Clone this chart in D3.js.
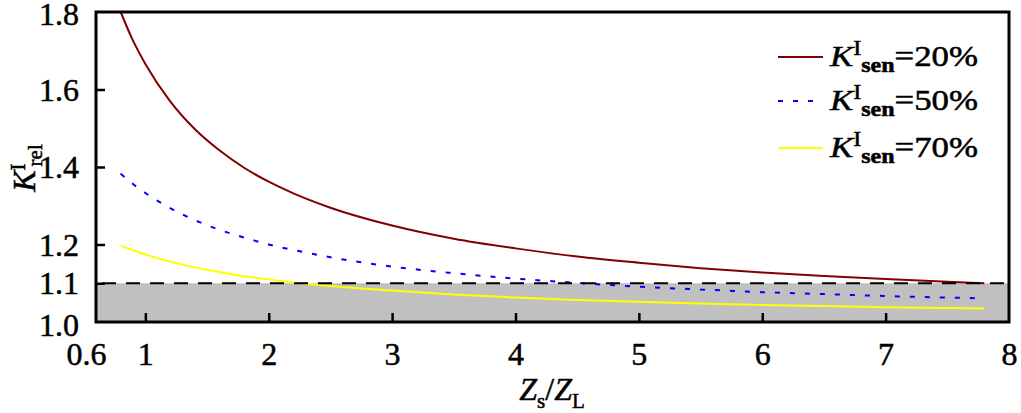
<!DOCTYPE html>
<html><head><meta charset="utf-8">
<script src="https://cdn.jsdelivr.net/npm/d3@7/dist/d3.min.js"></script>
<style>
html,body{margin:0;padding:0;background:#fff;}
svg{display:block;font-family:"Liberation Serif","Times New Roman",serif;}
text{stroke:#000;stroke-width:0.5px;}
</style></head>
<body>
<svg id="chart" width="1021" height="413"></svg>
<script>
// ---- data ----
const xValues = [0.8,0.9,1.0,1.2,1.4,1.6,1.8,2.0,2.2,2.5,3.0,3.5,4.0,4.5,5.0,5.5,6.0,6.5,7.0,7.5,7.8];
const k20 = [1.800,1.726,1.666,1.570,1.498,1.443,1.398,1.362,1.332,1.295,1.249,1.215,1.190,1.169,1.153,1.139,1.128,1.119,1.111,1.104,1.100];
const k50 = [1.383,1.356,1.333,1.294,1.263,1.238,1.218,1.200,1.186,1.167,1.143,1.126,1.112,1.101,1.091,1.084,1.077,1.072,1.067,1.063,1.061];
const k70 = [1.197,1.185,1.174,1.156,1.141,1.129,1.118,1.110,1.102,1.093,1.081,1.071,1.063,1.057,1.052,1.048,1.044,1.041,1.038,1.036,1.035];
const seriesNames = ["20%","50%","70%"];
const xTicks = [0.6,1,2,3,4,5,6,7,8];
const yTicks = [1.0,1.1,1.2,1.4,1.6,1.8];
const threshold = 1.1;

// ---- layout ----
const svg = d3.select("#chart");
const L = 96, R = 1009, T = 12, B = 322;
const x = d3.scaleLinear().domain([0.6,8]).range([L,R]);
const y = d3.scaleLinear().domain([1.0,1.8]).range([B,T]);

// gray region below threshold
svg.append("rect")
  .attr("x", x(0.6)).attr("y", y(threshold))
  .attr("width", x(8)-x(0.6)).attr("height", y(1.0)-y(threshold))
  .attr("fill", "#c0c0c0");

const styles = [
  {color:"#800000", dash:null},
  {color:"#0000ff", dash:"5,10"},
  {color:"#ffff00", dash:null}
];
const seriesData = [k20,k50,k70];
seriesData.forEach((vals,i)=>{
  svg.append("path")
    .datum(xValues.map((xv,j)=>[xv,vals[j]]))
    .attr("d", d3.line().curve(d3.curveMonotoneX).x(d=>x(d[0])).y(d=>y(d[1])))
    .attr("fill","none")
    .attr("stroke", styles[i].color)
    .attr("stroke-width", 2)
    .attr("stroke-dasharray", styles[i].dash);
});

// dashed threshold line
svg.append("line")
  .attr("x1", x(0.6)).attr("x2", x(8))
  .attr("y1", y(threshold)).attr("y2", y(threshold))
  .attr("stroke","#000").attr("stroke-width",2)
  .attr("stroke-dasharray","14,10").attr("stroke-dashoffset",-6);

// axes
const fs = 32;
const xAxis = d3.axisBottom(x).tickValues(xTicks).tickSizeInner(-9).tickSizeOuter(0)
  .tickFormat(d=>d===0.6?"0.6":d3.format("d")(d)).tickPadding(24);
const gx = svg.append("g").attr("transform",`translate(0,${B})`).call(xAxis);
gx.select(".domain").remove();
gx.selectAll(".tick line").attr("stroke","#000").attr("stroke-width",2.5)
  .filter(d=>d===0.6||d===8).remove();
gx.selectAll(".tick text").attr("font-size",fs).attr("font-family","Liberation Serif").attr("fill","#000")
  .attr("dx", d=>d===0.6?-10:0).attr("y", 20);

const yAxis = d3.axisLeft(y).tickValues(yTicks).tickSizeInner(-9).tickSizeOuter(0)
  .tickFormat(d3.format(".1f")).tickPadding(17);
const gy = svg.append("g").attr("transform",`translate(${L},0)`).call(yAxis);
gy.select(".domain").remove();
gy.selectAll(".tick line").attr("stroke","#000").attr("stroke-width",2.5)
  .filter(d=>d===1.0||d===1.8).remove();
gy.selectAll(".tick text").attr("font-size",fs).attr("font-family","Liberation Serif").attr("fill","#000")
  .attr("dy", d=>d===1.0?"0.42em":(d===1.8?"0.4em":"0.33em"));

// frame
svg.append("rect").attr("x",L).attr("y",T).attr("width",R-L).attr("height",B-T)
  .attr("fill","none").attr("stroke","#000").attr("stroke-width",3);

// x title
const xt = svg.append("text").attr("x",552).attr("y",400).attr("text-anchor","middle")
  .attr("font-size",fs).attr("fill","#000");
xt.append("tspan").attr("font-style","italic").text("Z");
xt.append("tspan").attr("font-size",21).attr("dy",8).text("s");
xt.append("tspan").attr("dy",-8).text("/");
xt.append("tspan").attr("font-style","italic").text("Z");
xt.append("tspan").attr("font-size",21).attr("dy",8).text("L");

// y title
const yt = svg.append("text").attr("transform","translate(35,168) rotate(-90)")
  .attr("text-anchor","middle").attr("font-size",fs).attr("fill","#000");
yt.append("tspan").attr("font-style","italic").text("K");
yt.append("tspan").attr("font-size",21).attr("dy",-10).text("I");
yt.append("tspan").attr("font-size",21).attr("dy",17).attr("dx",-3).text("rel");

// legend
const legY = [57,101,148];
seriesNames.forEach((name,i)=>{
  svg.append("line").attr("x1",778).attr("x2",823).attr("y1",legY[i]).attr("y2",legY[i])
    .attr("stroke",styles[i].color).attr("stroke-width",2)
    .attr("stroke-dasharray",styles[i].dash);
  const g = svg.append("g").attr("transform",`translate(830,${legY[i]+9})`);
  const t = g.append("text").attr("font-size",29).attr("fill","#000")
    .attr("textLength",148).attr("lengthAdjust","spacingAndGlyphs");
  t.append("tspan").attr("font-style","italic").text("K");
  t.append("tspan").attr("font-size",20).attr("dy",-11).text("I");
  t.append("tspan").attr("font-size",20).attr("dy",17).attr("font-weight","bold").text("sen");
  t.append("tspan").attr("dy",-6).text("=" + name);
});
</script>
</body></html>
